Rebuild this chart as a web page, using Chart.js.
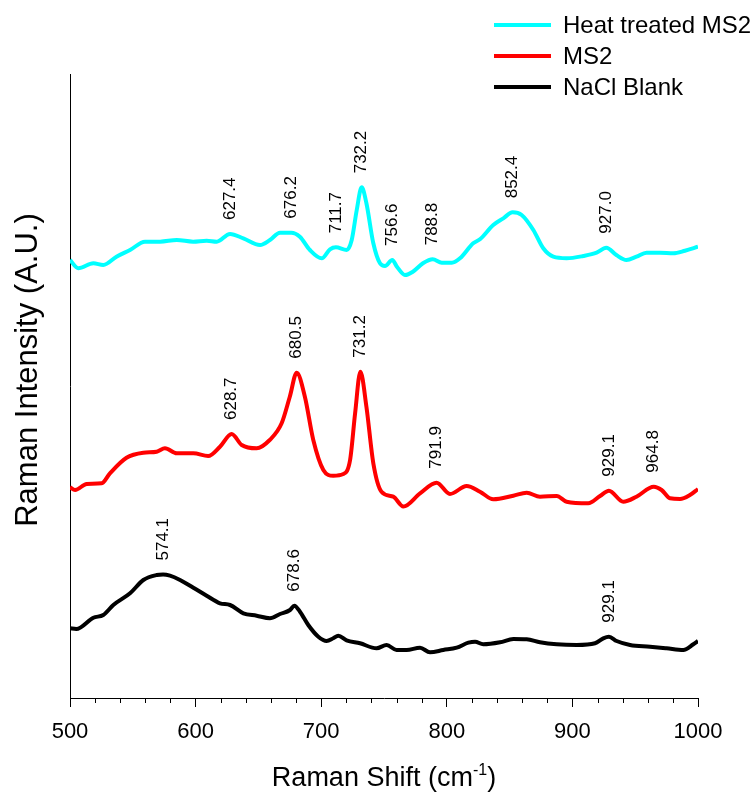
<!DOCTYPE html>
<html>
<head>
<meta charset="utf-8">
<title>Raman spectra</title>
<script src="https://cdn.jsdelivr.net/npm/chart.js@4.4.0/dist/chart.umd.min.js"></script>
<style>
    body { margin: 0; background: #fff; }
    canvas { display: block; }
</style>
</head>
<body>
<canvas id="ramanChart" width="755" height="795"></canvas>
<script>
const SERIES_NAMES = ['Heat treated MS2', 'MS2', 'NaCl Blank'];
const SERIES_COLORS = ['#00ffff', '#ff0000', '#000000'];
const X_TICKS = [500, 600, 700, 800, 900, 1000];

// spectra are stacked with an offset, intensity in arbitrary units
const heatShift = [500, 506.6, 518.6, 526.5, 537, 547.8, 559.7, 571.7, 585, 598, 608.8, 616.8, 627.4, 638, 651.3, 659.2, 667.2, 676.2, 683, 691, 700.4, 707, 711.7, 720.3, 724.3, 728.3, 732.2, 736, 741.5, 746.8, 750.8, 756.6, 760.3, 766.7, 773, 781, 788.8, 796, 804, 810.5, 821, 826.4, 837, 845, 852.4, 859.6, 868.9, 876.8, 884.8, 895.4, 908.7, 919.3, 927.0, 935, 943, 951, 959, 969.7, 980.3, 989.6, 1000];
const heatIntensity = [438, 429.7, 434.7, 433, 441.3, 448, 456.3, 456.3, 458, 456.3, 457.3, 456.3, 464, 459.7, 453, 458, 465.3, 465.3, 461.3, 448, 439.7, 448.7, 450.7, 448, 458, 488, 510.7, 494.7, 454.7, 434.7, 432, 438, 431.3, 423, 426.3, 434.7, 438.7, 435.3, 435.3, 439.7, 454.7, 458.7, 473, 479.7, 485.7, 483, 468, 449.7, 441.3, 439.7, 442, 445.3, 450.3, 443, 438, 441.3, 445.3, 445.3, 444.7, 447.3, 451.3];
const heatPeaks = [627.4, 676.2, 711.7, 732.2, 756.6, 788.8, 852.4, 927.0];

const ms2Shift = [500, 504, 513.3, 525.2, 531.8, 545, 558.4, 569, 575.6, 585, 598.2, 610, 619.4, 628.7, 636.7, 648.6, 659, 668.5, 675, 680.5, 687, 693.7, 701.7, 709.6, 717.6, 723, 727, 731.2, 736, 741.5, 748, 757.4, 765.4, 778.7, 791.9, 802.5, 815.8, 826.4, 837, 853, 863.6, 874.2, 887.5, 895.4, 912.6, 922, 929.1, 940.5, 951, 964.8, 971, 977.7, 985.7, 993.6, 1000];
const ms2Intensity = [210.7, 208, 214, 214.7, 224.7, 240.3, 245.3, 246.3, 249.7, 244.7, 244.7, 242, 251.3, 264, 253, 249.7, 258, 274.7, 301.3, 325.3, 301.3, 258, 228, 222.3, 224, 238, 284.7, 326.3, 291.3, 234.7, 206.3, 201.3, 191.5, 204.7, 215.3, 204, 212, 206.3, 198.7, 202.3, 205.3, 201.3, 202, 196.3, 194.7, 202, 207.3, 196.3, 201.3, 211.3, 208, 199.7, 199, 203, 209];
const ms2Peaks = [628.7, 680.5, 731.2, 791.9, 929.1, 964.8];

const blankShift = [500, 505, 518.6, 526.5, 534.5, 547.8, 558.4, 569, 574.1, 579.6, 587.6, 598.2, 608.8, 619.4, 627.4, 638, 648.6, 659.2, 667.2, 675.2, 678.6, 683.1, 689.7, 697.7, 704.3, 709.6, 713.6, 720.2, 730.9, 744.1, 752.1, 760, 768, 778.7, 786.6, 797.2, 807.9, 817.2, 822.5, 829, 842.4, 853, 863.6, 874.2, 887.5, 903.4, 918, 924.6, 929.1, 935.2, 945.9, 961.8, 975, 988.3, 996.3, 1000];
const blankIntensity = [69.7, 69, 80.3, 83, 93, 104.7, 118, 123, 123.5, 122.3, 118, 110.3, 102.3, 94.7, 93, 84.7, 82.3, 79.7, 84, 88, 92.3, 86.3, 73, 61.3, 57, 59.7, 62.3, 57.7, 54.7, 49.7, 53, 48, 48, 50.3, 45.7, 48, 50.3, 55.3, 56.3, 53.7, 55.7, 59, 58.7, 55.7, 53.7, 53, 54.7, 59.7, 61.3, 57, 53, 51.3, 49.7, 48, 53.7, 57];
const blankPeaks = [574.1, 678.6, 929.1];

const FONT = '"Liberation Sans", Arial, Helvetica, sans-serif';
Chart.defaults.font.family = FONT;
Chart.defaults.color = '#000';

function toPoints(shift, intensity) {
    return shift.map((x, i) => ({ x: x, y: intensity[i] }));
}

function makeDataset(index, shift, intensity, peaks) {
    return {
        label: SERIES_NAMES[index],
        data: toPoints(shift, intensity),
        peaks: peaks,
        borderColor: SERIES_COLORS[index],
        backgroundColor: SERIES_COLORS[index],
        borderWidth: 4,
        pointRadius: 0,
        cubicInterpolationMode: 'monotone',
        fill: false
    };
}

// rotated wavenumber labels above the picked peaks
const peakLabels = {
    id: 'peakLabels',
    afterDatasetsDraw(chart) {
        const ctx = chart.ctx;
        const xs = chart.scales.x;
        const ys = chart.scales.y;
        ctx.save();
        ctx.font = '17px ' + FONT;
        ctx.fillStyle = '#000';
        ctx.textAlign = 'left';
        ctx.textBaseline = 'middle';
        chart.data.datasets.forEach(function (ds) {
            ds.peaks.forEach(function (p) {
                const pt = ds.data.find(d => d.x === p);
                ctx.save();
                ctx.translate(xs.getPixelForValue(p), ys.getPixelForValue(pt.y) - 14);
                ctx.rotate(-Math.PI / 2);
                ctx.fillText(p.toFixed(1), 0, 0);
                ctx.restore();
            });
        });
        ctx.restore();
    }
};

// minor ticks, axis titles and the legend box in the corner
const decorations = {
    id: 'decorations',
    afterDraw(chart) {
        const ctx = chart.ctx;
        const xs = chart.scales.x;
        const area = chart.chartArea;
        ctx.save();

        ctx.strokeStyle = '#000';
        ctx.lineWidth = 1;
        for (let v = xs.min; v <= xs.max; v += 20) {
            if (v % 100 === 0) continue;
            const px = Math.round(xs.getPixelForValue(v)) + 0.5;
            ctx.beginPath();
            ctx.moveTo(px, area.bottom);
            ctx.lineTo(px, area.bottom + 5);
            ctx.stroke();
        }

        // x title with superscript
        ctx.fillStyle = '#000';
        ctx.textBaseline = 'alphabetic';
        ctx.textAlign = 'left';
        const main = 'Raman Shift (cm';
        const sup = '-1';
        const close = ')';
        ctx.font = '27px ' + FONT;
        const wMain = ctx.measureText(main).width;
        const wClose = ctx.measureText(close).width;
        ctx.font = '16px ' + FONT;
        const wSup = ctx.measureText(sup).width;
        let tx = (area.left + area.right) / 2 - (wMain + wSup + wClose) / 2;
        const ty = 786;
        ctx.font = '27px ' + FONT;
        ctx.fillText(main, tx, ty);
        ctx.font = '16px ' + FONT;
        ctx.fillText(sup, tx + wMain, ty - 11);
        ctx.font = '27px ' + FONT;
        ctx.fillText(close, tx + wMain + wSup, ty);

        // y title
        ctx.save();
        ctx.translate(37, (area.top + area.bottom) / 2 - 16);
        ctx.rotate(-Math.PI / 2);
        ctx.textAlign = 'center';
        ctx.font = '31px ' + FONT;
        ctx.fillText('Raman Intensity (A.U.)', 0, 0);
        ctx.restore();

        // legend
        ctx.font = '24px ' + FONT;
        ctx.textBaseline = 'middle';
        ctx.textAlign = 'left';
        chart.data.datasets.forEach(function (ds, i) {
            const ly = 25 + i * 31;
            ctx.strokeStyle = ds.borderColor;
            ctx.lineWidth = 4;
            ctx.beginPath();
            ctx.moveTo(494, ly);
            ctx.lineTo(551, ly);
            ctx.stroke();
            ctx.fillText(ds.label, 563, ly + 1);
        });

        ctx.restore();
    }
};

const ramanChart = new Chart(document.getElementById('ramanChart'), {
    type: 'line',
    data: {
        datasets: [
            makeDataset(0, heatShift, heatIntensity, heatPeaks),
            makeDataset(1, ms2Shift, ms2Intensity, ms2Peaks),
            makeDataset(2, blankShift, blankIntensity, blankPeaks)
        ]
    },
    options: {
        responsive: false,
        animation: false,
        events: [],
        layout: { padding: { top: 74, right: 57, left: 70, bottom: 0 } },
        plugins: {
            legend: { display: false },
            tooltip: { enabled: false }
        },
        scales: {
            x: {
                type: 'linear',
                min: 500,
                max: 1000,
                afterBuildTicks: function (scale) {
                    scale.ticks = X_TICKS.map(v => ({ value: v }));
                },
                afterFit: function (scale) {
                    scale.height = 97;
                },
                grid: {
                    drawOnChartArea: false,
                    drawTicks: true,
                    tickLength: 9,
                    color: '#000'
                },
                border: { color: '#000', width: 1 },
                ticks: {
                    font: { size: 22 },
                    color: '#000',
                    padding: 12,
                    maxRotation: 0,
                    callback: function (value) {
                        return String(value);
                    }
                }
            },
            y: {
                min: 0,
                max: 624,
                afterFit: function (scale) {
                    scale.width = 0;
                },
                grid: { display: false },
                border: { color: '#000', width: 1 },
                ticks: { display: false }
            }
        }
    },
    plugins: [peakLabels, decorations]
});
</script>
</body>
</html>
